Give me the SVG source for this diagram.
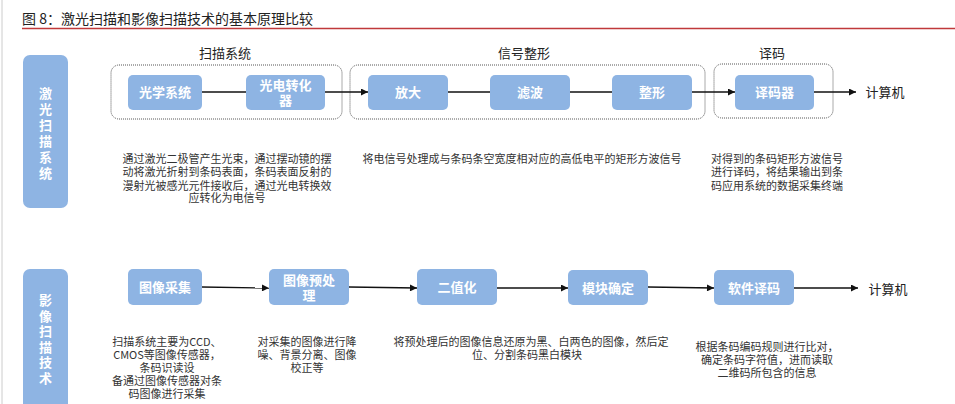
<svg xmlns="http://www.w3.org/2000/svg" width="955" height="404" viewBox="0 0 955 404">
<style>
  text { font-family: "Noto Sans CJK SC", "Noto Sans", sans-serif; }
  .node rect { fill: #8EB4E3; }
  .nt { fill: #ffffff; font-size: 13px; font-weight: bold; text-anchor: middle; }
  .vt { fill: #ffffff; font-size: 13px; font-weight: bold; text-anchor: middle; }
  .desc { fill: #333333; font-size: 11px; text-anchor: middle; }
  .lbl { fill: #222222; font-size: 13px; text-anchor: middle; }
  .grp { fill: none; stroke: #555555; stroke-width: 1; stroke-dasharray: 1 1; }
  .conn line { stroke: #111111; stroke-width: 1.3; }
  .arr { marker-end: url(#ah); }
</style>
<defs>
  <marker id="ah" viewBox="0 0 10 10" refX="10" refY="5" markerWidth="8" markerHeight="7" markerUnits="userSpaceOnUse" orient="auto">
    <path d="M0,0 L10,5 L0,10 z" fill="#111111"/>
  </marker>
</defs>
<rect width="955" height="404" fill="#ffffff"/>
<line x1="2" y1="0" x2="2" y2="404" stroke="#cccccc" stroke-width="1"/>
<text x="22" y="24" style="font-size:14px;fill:#222222">图 8：激光扫描和影像扫描技术的基本原理比较</text>
<line x1="22" y1="28.5" x2="955" y2="28.5" stroke="#C0393B" stroke-width="1.5"/>

<!-- group boxes -->
<g id="groups">
  <rect class="grp" x="111" y="65" width="231" height="54" rx="8"/>
  <rect class="grp" x="350" y="65" width="355" height="54" rx="8"/>
  <rect class="grp" x="714" y="64" width="119" height="54" rx="8"/>
  <text class="lbl" x="225" y="58">扫描系统</text>
  <text class="lbl" x="524" y="58">信号整形</text>
  <text class="lbl" x="772" y="58">译码</text>
</g>

<!-- connectors -->
<g id="connectors" class="conn">
  <line x1="202" y1="92" x2="246" y2="92"/>
  <line class="arr" x1="325" y1="92" x2="368" y2="92"/>
  <line x1="448" y1="92" x2="490" y2="92"/>
  <line x1="570" y1="92" x2="612" y2="92"/>
  <line class="arr" x1="692" y1="92" x2="735" y2="92"/>
  <line class="arr" x1="814" y1="92" x2="856" y2="92"/>
  <line class="arr" x1="202" y1="287" x2="269" y2="288"/>
  <line class="arr" x1="349" y1="287" x2="417" y2="288"/>
  <line class="arr" x1="497" y1="288" x2="568" y2="288"/>
  <line class="arr" x1="648" y1="287" x2="714" y2="288"/>
  <line class="arr" x1="794" y1="288" x2="858" y2="288"/>
</g>

<!-- left category nodes -->
<g id="laser" class="node">
  <rect x="23" y="55" width="45" height="153" rx="7"/>
  <text class="vt"><tspan x="45.5" y="98">激</tspan><tspan x="45.5" y="114">光</tspan><tspan x="45.5" y="130">扫</tspan><tspan x="45.5" y="146">描</tspan><tspan x="45.5" y="162">系</tspan><tspan x="45.5" y="178">统</tspan></text>
</g>
<g id="image" class="node">
  <rect x="23" y="269" width="45" height="145" rx="7"/>
  <text class="vt"><tspan x="45.5" y="305">影</tspan><tspan x="45.5" y="320.5">像</tspan><tspan x="45.5" y="336">扫</tspan><tspan x="45.5" y="351.5">描</tspan><tspan x="45.5" y="367">技</tspan><tspan x="45.5" y="382.5">术</tspan></text>
</g>

<!-- top row nodes -->
<g id="optics" class="node">
  <rect x="128" y="75" width="74" height="35" rx="5"/>
  <text class="nt" x="165" y="97">光学系统</text>
</g>
<g id="photo" class="node">
  <rect x="246" y="75" width="79" height="35" rx="5"/>
  <text class="nt"><tspan x="285.5" y="90">光电转化</tspan><tspan x="285.5" y="105">器</tspan></text>
</g>
<g id="amp" class="node">
  <rect x="368" y="75" width="80" height="35" rx="5"/>
  <text class="nt" x="408" y="97">放大</text>
</g>
<g id="filter" class="node">
  <rect x="490" y="75" width="80" height="35" rx="5"/>
  <text class="nt" x="530" y="97">滤波</text>
</g>
<g id="shape" class="node">
  <rect x="612" y="75" width="80" height="35" rx="5"/>
  <text class="nt" x="652" y="97">整形</text>
</g>
<g id="decoder" class="node">
  <rect x="735" y="75" width="79" height="35" rx="5"/>
  <text class="nt" x="774.5" y="97">译码器</text>
</g>
<g id="pc1">
  <text class="lbl" x="885" y="97">计算机</text>
</g>

<!-- bottom row nodes -->
<g id="capture" class="node">
  <rect x="128" y="269" width="74" height="36" rx="5"/>
  <text class="nt" x="165" y="292">图像采集</text>
</g>
<g id="preproc" class="node">
  <rect x="269" y="269" width="80" height="36" rx="5"/>
  <text class="nt"><tspan x="309" y="285">图像预处</tspan><tspan x="309" y="300">理</tspan></text>
</g>
<g id="binar" class="node">
  <rect x="417" y="269" width="80" height="36" rx="5"/>
  <text class="nt" x="457" y="292">二值化</text>
</g>
<g id="module" class="node">
  <rect x="568" y="270" width="80" height="35" rx="5"/>
  <text class="nt" x="608" y="293">模块确定</text>
</g>
<g id="softdec" class="node">
  <rect x="714" y="270" width="80" height="35" rx="5"/>
  <text class="nt" x="754" y="293">软件译码</text>
</g>
<g id="pc2">
  <text class="lbl" x="888" y="294">计算机</text>
</g>

<!-- descriptions -->
<g id="descs">
  <text class="desc"><tspan x="227" y="163">通过激光二极管产生光束，通过摆动镜的摆</tspan><tspan x="227" y="176">动将激光折射到条码表面，条码表面反射的</tspan><tspan x="227" y="190">漫射光被感光元件接收后，通过光电转换效</tspan><tspan x="227" y="202">应转化为电信号</tspan></text>
  <text class="desc" x="522" y="163">将电信号处理成与条码条空宽度相对应的高低电平的矩形方波信号</text>
  <text class="desc"><tspan x="777" y="163">对得到的条码矩形方波信号</tspan><tspan x="777" y="176">进行译码，将结果输出到条</tspan><tspan x="777" y="190">码应用系统的数据采集终端</tspan></text>

  <text class="desc"><tspan x="167" y="346">扫描系统主要为CCD、</tspan><tspan x="167" y="359">CMOS等图像传感器，</tspan><tspan x="167" y="372">条码识读设</tspan><tspan x="167" y="385">备通过图像传感器对条</tspan><tspan x="167" y="398">码图像进行采集</tspan></text>
  <text class="desc"><tspan x="307" y="346">对采集的图像进行降</tspan><tspan x="307" y="359">噪、背景分离、图像</tspan><tspan x="307" y="372">校正等</tspan></text>
  <text class="desc"><tspan x="531" y="346">将预处理后的图像信息还原为黑、白两色的图像，然后定</tspan><tspan x="527" y="359">位、分割条码黑白模块</tspan></text>
  <text class="desc"><tspan x="767" y="351">根据条码编码规则进行比对，</tspan><tspan x="767" y="364">确定条码字符值，进而读取</tspan><tspan x="767" y="377">二维码所包含的信息</tspan></text>
</g>
</svg>
